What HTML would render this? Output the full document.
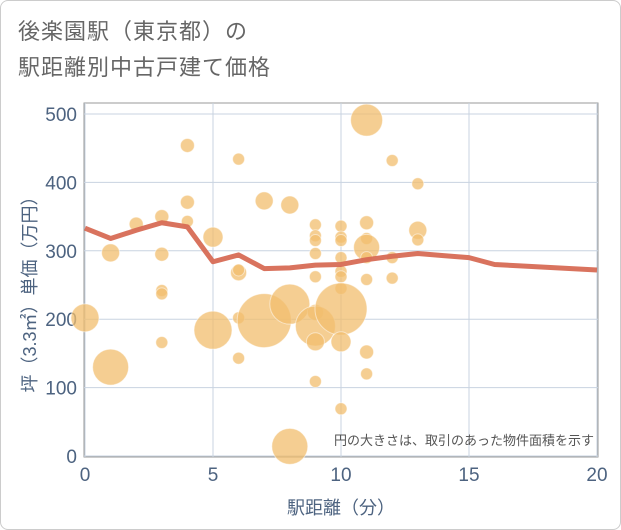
<!DOCTYPE html>
<html><head><meta charset="utf-8">
<style>
html,body{margin:0;padding:0;background:#fff}
body{width:621px;height:530px;overflow:hidden;font-family:"Liberation Sans","Noto Sans CJK JP",sans-serif}
#frame{position:absolute;left:0;top:0;width:619px;height:528px;border:1px solid #ccc;border-radius:8px}
#title{position:absolute;left:18px;top:14px;font-size:22px;line-height:36px;color:#666;letter-spacing:1px}
svg{position:absolute;left:0;top:0}
</style></head><body>
<div id="frame"></div>
<div id="title">後楽園駅（東京都）の<br>駅距離別中古戸建て価格</div>
<svg id="chart" width="621" height="530"></svg>
<script>
const xTicks=[0,5,10,15,20];
const yTicks=[0,100,200,300,400,500];
const bubbleX=[0,1,1,2,3,3,3,3,3,4,4,4,5,5,6,6,6,6,6,7,7,8,8,8,9,9,9,9,9,9,9,9,9,10,10,10,10,10,10,10,10,10,10,11,11,11,11,11,11,11,11,12,12,12,13,13,13];
const bubbleY=[202,130,297,339,350,295,242,237,166,454,371,343,320,184,434,268,272,202,143,373,198,367,222,14,338,322,315,296,262,210,190,167,109,336,320,315,290,270,262,245,215,167,69,491,341,318,305,290,258,152,120,432,290,260,398,330,316];
const bubbleR=[14,18,9,7,7,7,6,6,6,7,7,6,10,19,6,8,6,6,6,9,27,9,20,18,6,6,6,6,6,8,20,9,6,6,6,6,6,6,6,6,26,10,6,16,7,6,13,6,6,7,6,6,6,6,6,9,6];
const lineX=[0,1,2,3,4,5,6,7,8,9,10,11,12,13,14,15,16,17,18,19,20];
const lineY=[333,318,330,341,335,284,294,274,275,279,280,287,292,296,293,290,280,278,276,274,272];
const L=85,R=597,T=114,B=456,Y0=0,Y1=500;
const sx=v=>L+(v-0)/20*(R-L);
const sy=v=>B-(v-Y0)/(Y1-Y0)*(B-T);
const svg=document.getElementById('chart');
const NS='http://www.w3.org/2000/svg';
function mk(t,a){const e=document.createElementNS(NS,t);for(const k in a)e.setAttribute(k,a[k]);svg.appendChild(e);return e;}
const bg=mk('rect',{x:84,y:103,width:514,height:354,fill:'#fff',stroke:'#999','stroke-width':1});


yTicks.forEach(v=>{
 const g=mk('line',{x1:84,x2:598,y1:sy(v),y2:sy(v),stroke:'#c8d3e0','stroke-width':1});
 
 
 const t=mk('text',{x:77,y:sy(v)+7,'text-anchor':'end','font-size':19,fill:'#4d6380'});
 t.textContent=v;
 
 
});
xTicks.forEach(v=>{
 const g=mk('line',{x1:sx(v),x2:sx(v),y1:103,y2:457,stroke:'#c8d3e0','stroke-width':1});
 
 
 const t=mk('text',{x:sx(v),y:481,'text-anchor':'middle','font-size':19,fill:'#4d6380'});
 t.textContent=v;
 
 
});
bubbleX.forEach((x,i)=>{
 const c=mk('circle',{cx:sx(x),cy:sy(bubbleY[i]),r:bubbleR[i],fill:'rgba(242,190,110,0.75)',stroke:'rgba(255,255,255,0.5)','stroke-width':1});
 
 
});
const p=mk('polyline',{points:lineX.map((x,i)=>sx(x)+','+sy(lineY[i])).join(' '),fill:'none',stroke:'#d76b55','stroke-width':5,'stroke-linejoin':'round','stroke-opacity':0.95});


const note=mk('text',{x:594,y:445,'text-anchor':'end','font-size':13,fill:'#555'});
note.textContent='円の大きさは、取引のあった物件面積を示す';


const xt=mk('text',{x:341,y:514,'text-anchor':'middle','font-size':18,fill:'#4d6380'});
xt.textContent='駅距離（分）';


const yt=mk('text',{x:0,y:0,'text-anchor':'middle','font-size':18,fill:'#4d6380',transform:'translate(36,290) rotate(-90)'});
yt.textContent='坪（3.3㎡）単価（万円）';


</script>
</body></html>
